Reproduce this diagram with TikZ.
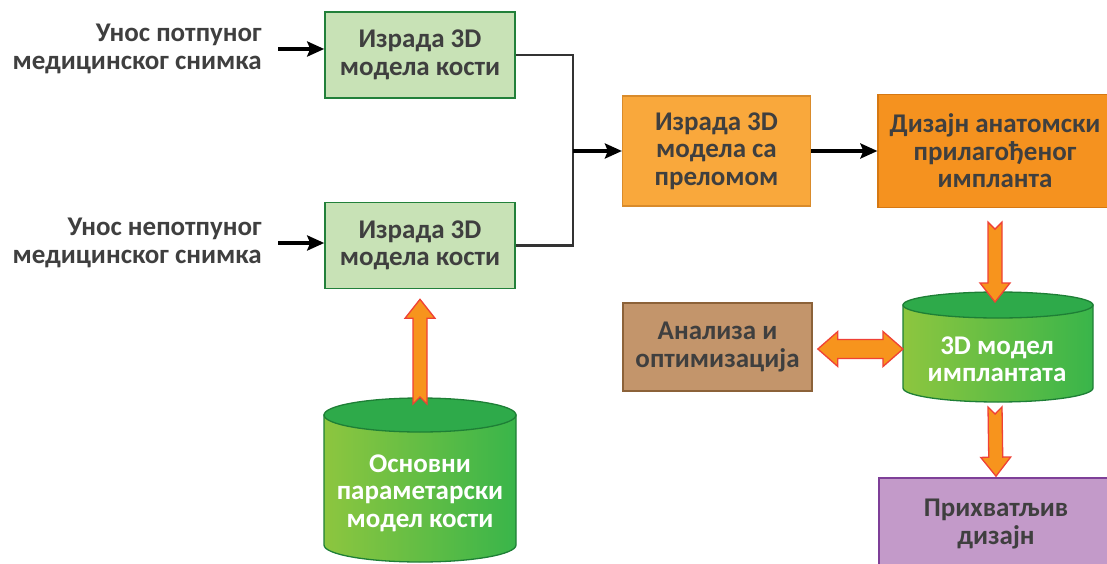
\documentclass[tikz,border=0pt]{standalone}
\usepackage{fontspec}
\setmainfont{Carlito}
\usetikzlibrary{arrows.meta,calc}

\definecolor{txtgray}{HTML}{3F3F3F}
\definecolor{boxgreen}{HTML}{C8E2B6}
\definecolor{boxgreenline}{HTML}{22803A}
\definecolor{fracfill}{HTML}{F9A83C}
\definecolor{fracline}{HTML}{D98B2B}
\definecolor{designfill}{HTML}{F5921F}
\definecolor{designline}{HTML}{D67812}
\definecolor{anafill}{HTML}{C3956B}
\definecolor{analine}{HTML}{8C6239}
\definecolor{accfill}{HTML}{C39AC9}
\definecolor{accline}{HTML}{7E3F98}
\definecolor{cylleft}{HTML}{8DC63F}
\definecolor{cylright}{HTML}{39B54A}
\definecolor{cyltop}{HTML}{2EAA4A}
\definecolor{cylline}{HTML}{1E7F36}
\definecolor{arrfill}{HTML}{F7941D}
\definecolor{arrline}{HTML}{EF4136}

\tikzset{
  fatarr/.style={draw=arrline,fill=arrfill,line width=1.3pt,line join=miter},
  conn/.style={draw=black,line width=3.4pt,-{Stealth[length=17pt,width=15pt,inset=3pt]}},
  elbow/.style={draw=black!80,line width=2.4pt},
}

% notched block arrow between two points
\newcommand\fatarrow[2]{%
  \path[fatarr] let \p1=($(#2)-(#1)$), \n1={veclen(\x1,\y1)}, \n2={atan2(\y1,\x1)} in
    [shift={(#1)},rotate=\n2]
    (0pt,-7pt) -- (\n1-19pt,-7pt) -- (\n1-19pt,-15pt) -- (\n1,0pt) -- (\n1-19pt,15pt)
    -- (\n1-19pt,7pt) -- (0pt,7pt) -- (7pt,0pt) -- cycle;}
% block arrow with two heads
\newcommand\fatdarrow[2]{%
  \path[fatarr] let \p1=($(#2)-(#1)$), \n1={veclen(\x1,\y1)}, \n2={atan2(\y1,\x1)} in
    [shift={(#1)},rotate=\n2]
    (0pt,0pt) -- (20pt,-17.5pt) -- (20pt,-9.5pt) -- (\n1-20pt,-9.5pt) -- (\n1-20pt,-17.5pt)
    -- (\n1,0pt) -- (\n1-20pt,17.5pt) -- (\n1-20pt,9.5pt) -- (20pt,9.5pt) -- (20pt,17.5pt) -- cycle;}

\begin{document}
\begin{tikzpicture}[x=1pt,y=-1pt,
    every node/.style={font=\bfseries\fontsize{27}{27.5}\selectfont,text=txtgray,align=center,inner sep=2pt},
    greenbox/.style={draw=boxgreenline,fill=boxgreen,line width=1.6pt,minimum width=190,minimum height=86},
    fracbox/.style={draw=fracline,fill=fracfill,line width=1.2pt,minimum width=188,minimum height=110},
    designbox/.style={draw=designline,fill=designfill,line width=1.2pt,minimum width=234,minimum height=113},
    anabox/.style={draw=analine,fill=anafill,line width=1.6pt,minimum width=189,minimum height=88},
    accbox/.style={draw=accline,fill=accfill,line width=1.6pt,minimum width=234,minimum height=92},
    cyltext/.style={text=white}]
\useasboundingbox (0,0) rectangle (1107,564);

% input scans
\node[anchor=east,align=right] (scan1) at (264,49) {Унос потпуног\\медицинског снимка};
\node[anchor=east,align=right] (scan2) at (264,243) {Унос непотпуног\\медицинског снимка};

% bone models
\node[greenbox] (bone1) at (420,55) {Израда 3D\\модела кости};
\node[greenbox] (bone2) at (420,245.5) {Израда 3D\\модела кости};

\draw[conn] ([xshift=14pt]scan1.east) -- (scan1.east -| bone1.west);
\draw[conn] ([xshift=14pt]scan2.east) -- (scan2.east -| bone2.west);

% fracture model and implant design
\node[fracbox] (frac) at (716.5,151) {Израда 3D\\модела са\\преломом};
\node[designbox] (design) at (995,151) {Дизајн анатомски\\прилагођеног\\импланта};

\coordinate (join) at (573,151);
\draw[elbow] (bone1.east) -| (join);
\draw[elbow] (bone2.east) -| (join);
\draw[conn] (join) -- (frac.west);
\draw[conn] (frac.east) -- (design.west);

% parametric bone model (cylinder)
\shade[left color=cylleft,right color=cylright,draw=cylline,line width=1.3pt]
  (324,415) -- (324,545) arc[start angle=180,end angle=0,x radius=96,y radius=17] -- (516,415) -- cycle;
\draw[fill=cyltop,draw=cylline,line width=1.3pt] (420,415) ellipse[x radius=96,y radius=17];
\coordinate (cyl1top) at (420,404);
\node[cyltext] (param) at (420,493) {Основни\\параметарски\\модел кости};

% implant model (cylinder)
\shade[left color=cylleft,right color=cylright,draw=cylline,line width=1.3pt]
  (903,305) -- (903,388) arc[start angle=180,end angle=0,x radius=95,y radius=14] -- (1093,305) -- cycle;
\draw[fill=cyltop,draw=cylline,line width=1.3pt] (998,305) ellipse[x radius=95,y radius=13];
\coordinate (cyl2top) at (995,302);
\coordinate (cyl2bot) at (995,407);
\coordinate (cyl2left) at (903,349);
\node[cyltext] (impl) at (997,359) {3D модел\\имплантата};

% analysis and accepted design
\node[anabox] (ana) at (717.5,347) {Анализа и\\оптимизација};
\node[accbox] (accept) at (996,524) {Прихватљив\\дизајн};

% block arrows
\fatarrow{cyl1top}{$(bone2.south)+(0,10)$}
\fatarrow{$(design.south)+(0,14)$}{cyl2top}
\fatarrow{cyl2bot}{$(accept.north)+(0,-1)$}
\fatdarrow{$(ana.east)+(5,2)$}{cyl2left}
\end{tikzpicture}
\end{document}
